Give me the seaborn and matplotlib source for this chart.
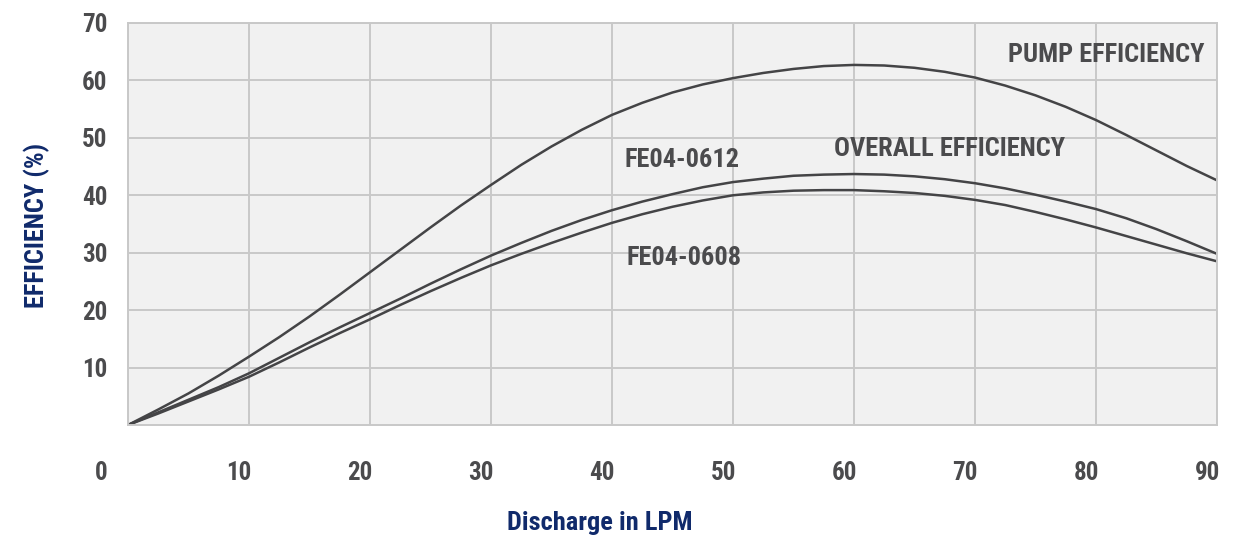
import pandas as pd
import matplotlib
matplotlib.use("Agg")
import matplotlib.pyplot as plt
import matplotlib.transforms as mtransforms
from matplotlib import font_manager
import seaborn as sns

# Values (every 2.5 LPM)
discharge = [0, 2.5, 5, 7.5, 10, 12.5, 15, 17.5, 20, 22.5, 25, 27.5, 30, 32.5, 35, 37.5,
             40, 42.5, 45, 47.5, 50, 52.5, 55, 57.5, 60, 62.5, 65, 67.5, 70, 72.5, 75,
             77.5, 80, 82.5, 85, 87.5, 90]
pump_eff = [0, 2.7, 5.5, 8.6, 11.9, 15.3, 18.9, 22.7, 26.6, 30.5, 34.4, 38.2, 41.8, 45.3,
            48.5, 51.4, 54.0, 56.1, 57.9, 59.3, 60.4, 61.3, 62.0, 62.5, 62.7, 62.6, 62.2,
            61.5, 60.5, 59.1, 57.4, 55.4, 53.1, 50.5, 47.8, 45.1, 42.6]
fe04_0612 = [0, 2.2, 4.4, 6.6, 9.0, 11.7, 14.4, 17.0, 19.5, 22.0, 24.6, 27.1, 29.5, 31.7,
             33.8, 35.7, 37.4, 38.9, 40.2, 41.4, 42.3, 42.9, 43.4, 43.6, 43.7, 43.6, 43.3,
             42.8, 42.1, 41.2, 40.1, 38.9, 37.6, 36.0, 34.1, 32.0, 29.8]
fe04_0608 = [0, 2.0, 4.1, 6.2, 8.4, 10.9, 13.5, 16.0, 18.4, 20.9, 23.3, 25.6, 27.8, 29.8,
             31.7, 33.5, 35.2, 36.7, 38.0, 39.1, 40.0, 40.5, 40.8, 40.9, 40.9, 40.7, 40.4,
             39.9, 39.2, 38.3, 37.1, 35.8, 34.4, 32.9, 31.4, 29.9, 28.5]

x_ticks = [0, 10, 20, 30, 40, 50, 60, 70, 80, 90]
y_ticks = [10, 20, 30, 40, 50, 60, 70]

df = pd.DataFrame({
    "Discharge": discharge * 3,
    "Efficiency": pump_eff + fe04_0612 + fe04_0608,
    "Curve": ["Pump"] * len(discharge) + ["FE04-0612"] * len(discharge) + ["FE04-0608"] * len(discharge),
})

sns.set_style("white")

# condensed bold face, like the original
bold_names = {f.name for f in font_manager.fontManager.ttflist if f.weight in (700, 'bold')}
prefs = ['Roboto Condensed', 'Barlow Condensed', 'Fira Sans Condensed', 'IBM Plex Sans Condensed',
         'PT Sans Narrow']
family = next((n for n in prefs if n in bold_names), 'Liberation Sans')
plt.rcParams['font.family'] = [family, 'DejaVu Sans']

text_col = '#4b4b4d'
navy = '#102a6b'
grid_col = '#c8c8c8'

fig = plt.figure(figsize=(12.43, 5.39), dpi=100)
ax = fig.add_axes([128 / 1243, 114 / 539, 1089 / 1243, 402 / 539])
ax.set_facecolor('#f1f1f1')

sns.lineplot(data=df, x="Discharge", y="Efficiency", hue="Curve",
             palette=['#444446'] * 3, linewidth=1.8, legend=False, ax=ax)

ax.set_xlim(0, 90)
ax.set_ylim(0, 70)
ax.set_xticks(x_ticks)
ax.set_yticks(y_ticks)
ax.grid(True, color=grid_col, linewidth=1.4)
ax.set_axisbelow(True)
for s in ax.spines.values():
    s.set_color(grid_col)
    s.set_linewidth(1.4)

ax.tick_params(axis='both', length=0, labelsize=18, labelcolor=text_col)
ax.tick_params(axis='y', pad=15)
ax.tick_params(axis='x', pad=26)
for lbl in ax.get_yticklabels():
    lbl.set_fontweight('bold')
# x labels sit a little left of their gridlines in the original
for tick, lbl in zip(x_ticks, ax.get_xticklabels()):
    lbl.set_fontweight('bold')
    dx = -27 if tick == 0 else -10
    lbl.set_transform(lbl.get_transform() + mtransforms.ScaledTranslation(dx / 100, 0, fig.dpi_scale_trans))

ax.set_xlabel('')
ax.set_ylabel('')
fig.text(600 / 1243, 1 - 523 / 539, 'Discharge in LPM', color=navy, fontsize=19,
         fontweight='bold', ha='center', va='center')
fig.text(37 / 1243, 1 - 225 / 539, 'EFFICIENCY (%)', color=navy, fontsize=19,
         fontweight='bold', ha='center', va='center', rotation=90)

# curve annotations
labels = [
    ('PUMP EFFICIENCY', 1204, 55, 'right'),
    ('OVERALL EFFICIENCY', 834, 149, 'left'),
    ('FE04-0612', 624, 160, 'left'),
    ('FE04-0608', 627, 258, 'left'),
]
for txt, px, py, ha in labels:
    ax.text(px / 1243, 1 - py / 539, txt, transform=fig.transFigure, fontsize=19,
            fontweight='bold', color=text_col, ha=ha, va='center')

fig.savefig('out.png', dpi=100)
